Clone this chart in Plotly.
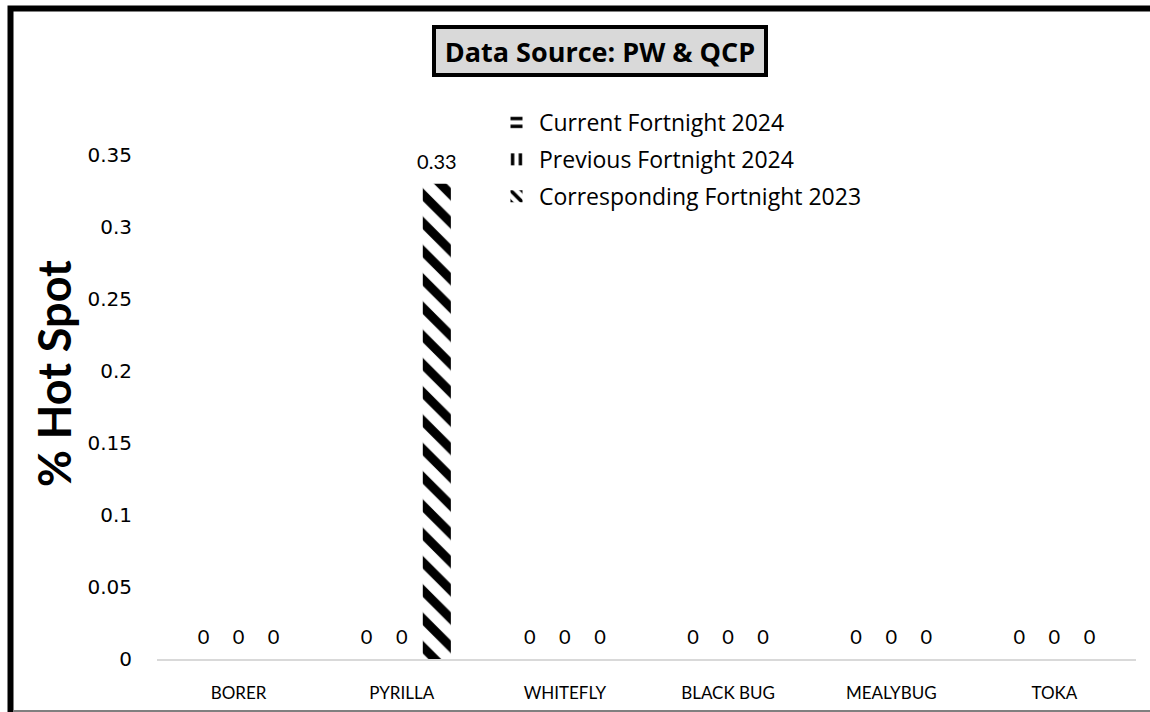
import plotly.graph_objects as go

categories = ["BORER", "PYRILLA", "WHITEFLY", "BLACK BUG", "MEALYBUG", "TOKA"]
current_2024 = [0, 0, 0, 0, 0, 0]
previous_2024 = [0, 0, 0, 0, 0, 0]
corresponding_2023 = [0, 0.33, 0, 0, 0, 0]
y_ticks = [0, 0.05, 0.1, 0.15, 0.2, 0.25, 0.3, 0.35]

W, H = 1150, 712
ML, MR, MT, MB = 157, 14, 155, 53
PW, PH = W - ML - MR, H - MT - MB

def px_x(p):
    return (p - ML) / PW

def px_y(p):
    return (H - MB - p) / PH

FONT = "Lato"
BARGAP = 0.355
series = [
    ("Current Fortnight 2024", current_2024, "-"),
    ("Previous Fortnight 2024", previous_2024, "|"),
    ("Corresponding Fortnight 2023", corresponding_2023, "\\"),
]

fig = go.Figure()
for i, (name, vals, shape) in enumerate(series):
    fig.add_trace(go.Bar(
        name=name, x=categories, y=vals,
        marker=dict(color="white", line=dict(width=0),
                    pattern=dict(shape=shape, fgcolor="black", bgcolor="white",
                                 fgopacity=1, size=20, solidity=0.45)),
        legendgroup=f"g{i}", hoverinfo="skip",
    ))
# data labels, grouped with the bars
for i, (name, vals, shape) in enumerate(series):
    fig.add_trace(go.Scatter(
        x=categories, y=vals, mode="markers+text",
        text=[f"{v:g}" for v in vals], textposition="top center",
        textfont=dict(family=FONT, size=20, color="#000000"),
        marker=dict(size=14, color="rgba(0,0,0,0)"),
        showlegend=False, cliponaxis=False, hoverinfo="skip",
    ))

fig.update_layout(
    width=W, height=H,
    margin=dict(l=ML, r=MR, t=MT, b=MB, autoexpand=False),
    paper_bgcolor="white", plot_bgcolor="white",
    barmode="group", bargap=BARGAP, bargroupgap=0.2,
    scattermode="group", scattergap=BARGAP,
    font=dict(family=FONT, color="#000000"),
    showlegend=True,
    legend=dict(x=px_x(494), y=px_y(101), xanchor="left", yanchor="top",
                traceorder="grouped", tracegroupgap=4,
                font=dict(family="Open Sans", size=23, color="#000000"),
                bgcolor="rgba(0,0,0,0)", itemwidth=35),
    xaxis=dict(showgrid=False, showline=True, linecolor="#d9d9d9", linewidth=2,
               ticks="", tickfont=dict(family=FONT, size=17, color="#000000"),
               ticklabelstandoff=18, automargin=False),
    yaxis=dict(range=[0, 0.35], tickvals=y_ticks,
               ticktext=[f"{t:g}" for t in y_ticks],
               showgrid=False, zeroline=False, showline=False, ticks="",
               tickfont=dict(family="DejaVu Sans", size=20, color="#000000"),
               ticklabelstandoff=24, automargin=False),
    shapes=[
        dict(type="rect", xref="paper", yref="paper",
             x0=px_x(10.5), x1=px_x(1170), y0=px_y(8.5), y1=px_y(730),
             line=dict(color="black", width=6), fillcolor="rgba(0,0,0,0)"),
        dict(type="line", xref="paper", yref="paper",
             x0=px_x(13), x1=px_x(1150), y0=px_y(711), y1=px_y(711),
             line=dict(color="#808080", width=2)),
    ],
    annotations=[
        dict(text="<b>Data Source: PW & QCP</b>", xref="paper", yref="paper",
             x=px_x(600), y=px_y(51), xanchor="center", yanchor="middle",
             showarrow=False, width=324, height=40, borderpad=2,
             font=dict(family="Open Sans", size=27, color="#000000"),
             bgcolor="#d9d9d9", bordercolor="black", borderwidth=4),
        dict(text="<b>% Hot Spot</b>", xref="paper", yref="paper",
             x=px_x(54), y=px_y(374), xanchor="center", yanchor="middle",
             textangle=-90, showarrow=False,
             font=dict(family=FONT, size=45, color="#000000")),
    ],
)

fig.write_html("out.html",
               config={"displayModeBar": False},
               post_script="document.body.style.margin='0px';")
